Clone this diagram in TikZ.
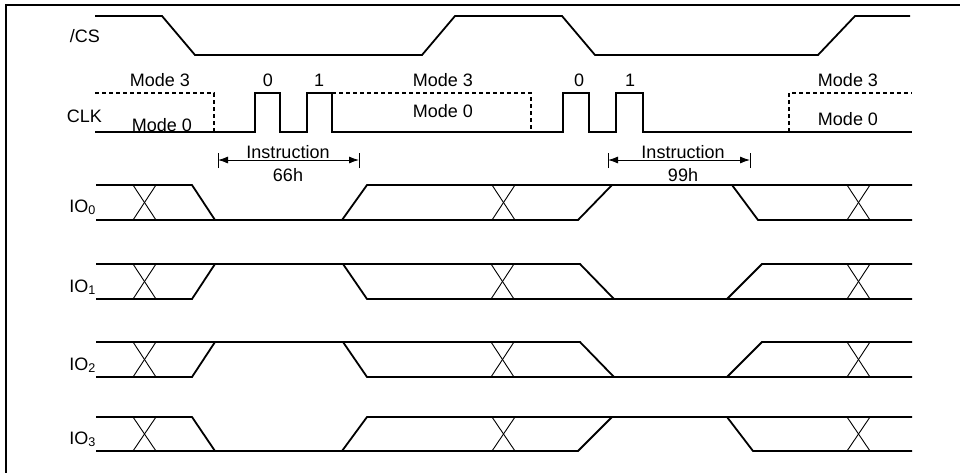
\documentclass[tikz,border=0pt]{standalone}
\usepackage{fontspec}
\setmainfont{Liberation Sans}
\usetikzlibrary{arrows.meta}
\tikzset{
  sig/.style={line width=1.8pt, line join=miter},
  xing/.style={line width=0.9pt},
  dsig/.style={line width=1.6pt, dash pattern=on 4pt off 3pt},
  lbl/.style={inner sep=0pt, anchor=base, font=\fontsize{18}{20}\selectfont},
  rlbl/.style={inner sep=0pt, anchor=base east, font=\fontsize{18}{20}\selectfont},
  tick/.style={line width=0.9pt},
  dim/.style={line width=0.9pt, {Latex[length=10pt,width=7pt]}-{Latex[length=10pt,width=7pt]}}
}
\newcommand\myX[3]{% x, high, low
  \draw[xing] (#1,#2) -- ++(23,#3-#2);
  \draw[xing] (#1,#3) -- ++(23,#2-#3);
}
% type A : IO0 / IO3
\newcommand\ioA[3]{% high, low, fall start on right
  \draw[sig] (96,#1) -- (192,#1) -- (215,#2);
  \draw[sig] (96,#2) -- (578,#2) -- (612,#1);
  \draw[sig] (342,#2) -- (367,#1) -- (912,#1);
  \draw[sig] (#3,#1) -- ++(26,#2-#1) -- (912,#2);
  \myX{133}{#1}{#2}\myX{492}{#1}{#2}\myX{847}{#1}{#2}
}
% type B : IO1 / IO2
\newcommand\ioB[2]{%
  \draw[sig] (96,#1) -- (580,#1) -- (614,#2);
  \draw[sig] (96,#2) -- (192,#2) -- (215,#1);
  \draw[sig] (343,#1) -- (367,#2) -- (912,#2);
  \draw[sig] (727,#2) -- (762,#1) -- (912,#1);
  \myX{491}{#1}{#2}\myX{133}{#1}{#2}\myX{847}{#1}{#2}
}
\begin{document}
\begin{tikzpicture}[x=1pt,y=-1pt]
\useasboundingbox (0,0) rectangle (960,472);
\fill[white] (0,0) rectangle (960,472);
% frame
\draw[line width=2pt] (6,480) -- (6,5) -- (970,5);

% /CS
\draw[sig] (95,16) -- (162,16) -- (195,55) -- (422,55) -- (455,16) -- (562,16)
  -- (595,55) -- (818,55) -- (855,16) -- (910,16);
\node[rlbl] (cs) at (100,42.5) {/CS};

% CLK
\draw[sig] (95,132) -- (255,132) -- (255,93) -- (280,93) -- (280,132) -- (307,132)
  -- (307,93) -- (332,93) -- (332,132) -- (563,132) -- (563,93) -- (589,93)
  -- (589,132) -- (616,132) -- (616,93) -- (643,93) -- (643,132) -- (912,132);
\draw[dsig] (95,93) -- (214,93) -- (214,132);
\draw[dsig] (332,93) -- (531,93) -- (531,132);
\draw[dsig] (789,132) -- (789,93) -- (912,93);
\node[rlbl] (clk) at (102,122.5) {CLK};
\node[lbl] (m3a) at (160,86) {Mode 3};
\node[lbl] (m0a) at (162,131.5) {Mode 0};
\node[lbl] (b0a) at (268,86) {0};
\node[lbl] (b1a) at (319,86) {1};
\node[lbl] (m3b) at (443,86) {Mode 3};
\node[lbl] (m0b) at (443,117) {Mode 0};
\node[lbl] (b0b) at (579,86) {0};
\node[lbl] (b1b) at (630,86) {1};
\node[lbl] (m3c) at (848,86) {Mode 3};
\node[lbl] (m0c) at (848,125) {Mode 0};

% Instruction dimensions
\coordinate (t1) at (218,160);
\coordinate (t2) at (359,160);
\coordinate (t3) at (608,160);
\coordinate (t4) at (750,160);
\draw[tick] ([yshift=-8pt]t1) -- ([yshift=7pt]t1);
\draw[tick] ([yshift=-8pt]t2) -- ([yshift=7pt]t2);
\draw[tick] ([yshift=-8pt]t3) -- ([yshift=7pt]t3);
\draw[tick] ([yshift=-8pt]t4) -- ([yshift=7pt]t4);
\draw[dim] (t1) -- (t2);
\draw[dim] (t3) -- (t4);
\node[lbl] (ins1) at (288,158) {Instruction};
\node[lbl] (h66) at (288,181.5) {66h};
\node[lbl] (ins2) at (683,158) {Instruction};
\node[lbl] (h99) at (683,181.5) {99h};

% IO lines
\ioA{185}{220}{732}
\ioB{264}{299}
\ioB{342}{377}
\ioA{417}{451}{727}
\node[rlbl] (io0) at (96,212) {IO\textsubscript{0}};
\node[rlbl] (io1) at (96,292) {IO\textsubscript{1}};
\node[rlbl] (io2) at (96,370) {IO\textsubscript{2}};
\node[rlbl] (io3) at (96,444) {IO\textsubscript{3}};
\end{tikzpicture}
\end{document}
